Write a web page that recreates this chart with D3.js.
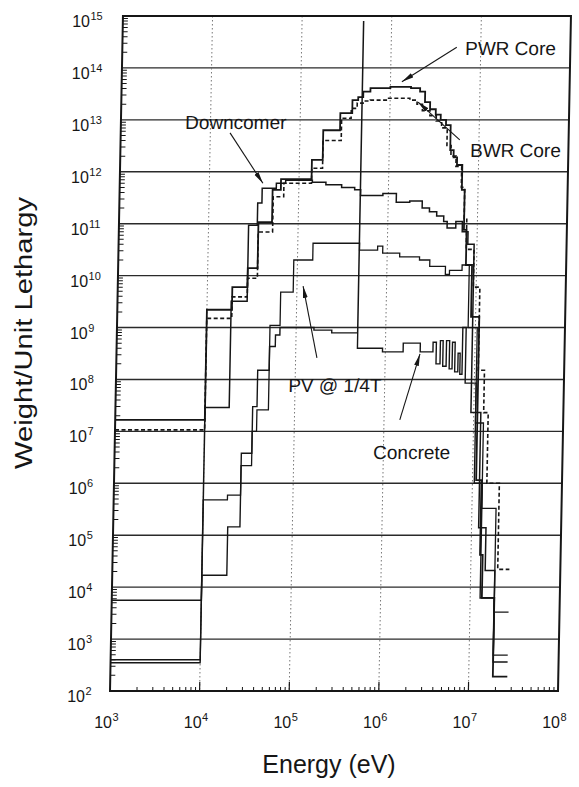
<!DOCTYPE html>
<html>
<head>
<meta charset="utf-8">
<script src="https://cdn.jsdelivr.net/npm/d3@7/dist/d3.min.js"></script>
<style>
  body { margin: 0; background: #fff; }
  svg { display: block; font-family: "Liberation Sans", Arial, Helvetica, sans-serif; }
</style>
</head>
<body>
<svg id="chart" width="579" height="787"></svg>
<script>
// decade ticks
const xTicks = [1e3, 1e4, 1e5, 1e6, 1e7, 1e8];
const yTicks = d3.range(2, 16).map(p => Math.pow(10, p));

// step histograms: bin edges (eV) and weight per bin
const pwrEdges = [1e3, 1e4, 1.9e4, 2.8e4, 3.6e4, 5.1e4, 6.3e4, 1.38e5, 1.82e5, 2.8e5, 3.8e5, 4.4e5, 5.0e5, 6.0e5, 1e6, 1.7e6, 2.15e6, 2.45e6, 2.8e6, 3.25e6, 3.7e6, 4.25e6, 4.8e6, 5.25e6, 5.75e6, 6.6e6, 7.1e6, 7.6e6, 8.9e6, 1.1e7, 1.26e7, 1.35e7, 1.86e7, 2.7e7];
const pwrValues = [1.66e7, 2.2e9, 6.0e9, 1.4e10, 1.07e11, 4.5e11, 7.2e11, 1.7e12, 6.3e12, 1.35e13, 2.4e13, 2.75e13, 3.5e13, 4.1e13, 4.3e13, 4.1e13, 3.5e13, 2.2e13, 1.6e13, 1.26e13, 1.0e13, 7.9e12, 2.6e12, 1.9e12, 1.35e12, 4.5e11, 7.6e10, 1.6e10, 1.6e9, 1.15e6, 4.2e4, 6.2e3, 1.9e2];

const bwrEdges = [1e3, 1e4, 1.9e4, 2.8e4, 3.6e4, 5.2e4, 6.8e4, 1.38e5, 1.82e5, 2.9e5, 3.7e5, 4.3e5, 5.0e5, 6.0e5, 9.3e5, 1.66e6, 2.0e6, 2.3e6, 2.8e6, 3.3e6, 3.8e6, 4.4e6, 4.9e6, 5.6e6, 6.5e6, 7.1e6, 7.6e6, 9.3e6, 1.1e7, 1.29e7, 1.45e7, 2.0e7, 2.7e7];
const bwrValues = [1.07e7, 1.5e9, 3.9e9, 8.9e9, 6.9e10, 3.3e11, 6e11, 1.17e12, 4e12, 1.07e13, 1.66e13, 2.1e13, 2.3e13, 2.4e13, 2.6e13, 2.4e13, 2e13, 1.5e13, 1.2e13, 9.5e12, 7e12, 3.2e12, 2e12, 1.26e12, 5e11, 1.26e11, 3.2e10, 6e9, 1.5e8, 2.3e7, 1e6, 2.2e4];

const downEdges = [1e3, 1e4, 1.86e4, 2.8e4, 3.5e4, 3.9e4, 5.6e4, 7.1e4, 1.41e5, 2.0e5, 3.0e5, 4.2e5, 4.9e5, 8.7e5, 1.23e6, 1.74e6, 2.4e6, 2.9e6, 3.5e6, 4.2e6, 4.6e6, 5.75e6, 6.8e6, 7.9e6, 9.3e6, 1.2e7, 1.45e7, 1.86e7, 2.7e7];
const downValues = [5.6e3, 2.9e7, 3.2e9, 9.3e10, 2.5e11, 4.8e11, 6e11, 6.9e11, 6.3e11, 5.6e11, 5e11, 4.5e11, 3.5e11, 3.8e11, 2.6e11, 2.75e11, 2e11, 1.7e11, 1.4e11, 1.1e11, 8.3e10, 1.1e11, 7e10, 4e10, 2.3e7, 1.4e5, 2.1e4, 3.6e2];

const pvEdges = [1e3, 1e4, 1.86e4, 2.6e4, 3.4e4, 3.8e4, 5.1e4, 6.6e4, 9.1e4, 1.48e5, 4.9e5, 7.8e5, 8.9e5, 1.38e6, 2.3e6, 3.0e6, 4.5e6, 5.0e6, 6.9e6, 8.3e6, 1.05e7, 1.29e7, 1.86e7, 2.7e7];
const pvValues = [4e2, 4.8e5, 5.9e5, 2.2e6, 1e7, 2.6e7, 1.1e9, 4.8e9, 2e10, 4.2e10, 3.1e10, 3.7e10, 2.7e10, 2.3e10, 2e10, 1.5e10, 1.05e10, 1.26e10, 1.6e10, 1e9, 1.45e7, 3.3e5, 3.3e3];

const concEdges = [1e3, 1e4, 1.9e4, 2.6e4, 3.4e4, 3.8e4, 5.1e4, 5.9e4, 6.6e4, 1.58e5, 2.5e5, 4.86e5, 4.875e5, 9.3e5, 1.58e6, 2.45e6, 3.4e6, 3.7e6, 4.1e6, 4.4e6, 4.8e6, 5.2e6, 5.6e6, 6.0e6, 6.5e6, 6.85e6, 7.25e6, 7.9e6, 1.05e7, 1.29e7, 1.86e7, 2.7e7];
const concValues = [3.5e2, 1.7e4, 1.45e5, 3.8e6, 3e7, 1.5e8, 4.3e8, 7.2e8, 1e9, 8.9e8, 7.9e8, 7.8e14, 4e8, 3.4e8, 5e8, 3.4e8, 5.2e8, 2e8, 5.6e8, 1.8e8, 5.6e8, 1.6e8, 5.2e8, 1.4e8, 3.2e8, 1.26e8, 1e9, 8.5e7, 1e6, 6.2e3, 4.9e2];

// annotations: text position and arrow (from -> to), in data units
const labelNames = ['PWR Core', 'BWR Core', 'Downcomer', 'PV @ 1/4T', 'Concrete'];
const labelPos = [[6.7e6, 1.8e14], [8.0e6, 1.93e12], [5.2e3, 6.6e12], [8.4e4, 5.8e7], [7.7e5, 2.95e6]];
const arrowFrom = [[5.4e6, 2.5e14], [6.1e6, 4.1e12], [1.66e4, 5.6e12], [1.73e5, 2.6e8], [1.5e6, 1.66e7]];
const arrowTo = [[1.34e6, 5.4e13], [2.05e6, 2.2e13], [3.96e4, 6.0e11], [1.17e5, 6.3e9], [2.44e6, 3.1e8]];

const series = [
    { edges: pwrEdges, values: pwrValues, width: 1.8, dash: null },
    { edges: bwrEdges, values: bwrValues, width: 1.6, dash: '4,2.5' },
    { edges: downEdges, values: downValues, width: 1.5, dash: null },
    { edges: pvEdges, values: pvValues, width: 1.3, dash: null },
    { edges: concEdges, values: concValues, width: 1.4, dash: null },
];

const ink = '#161616';
const svg = d3.select('#chart');

const x = d3.scaleLog().domain([1e3, 1e8]).range([110, 558]);
const y = d3.scaleLog().domain([1e2, 1e15]).range([691, 16]);

// the scanned figure leans a little to the right
const plot = svg.append('g')
    .attr('transform', `translate(0,${y(1e2)}) skewX(-1.1) translate(0,${-y(1e2)})`);

svg.append('defs').append('marker')
    .attr('id', 'head')
    .attr('markerUnits', 'userSpaceOnUse')
    .attr('viewBox', '0 0 12 6')
    .attr('refX', 12).attr('refY', 3)
    .attr('markerWidth', 12).attr('markerHeight', 6)
    .attr('orient', 'auto')
    .append('path')
    .attr('d', 'M0,0.6 L12,3 L0,5.4 Z')
    .attr('fill', ink);

// horizontal grid at each decade
plot.append('g')
    .selectAll('line')
    .data(yTicks.slice(1, -1))
    .join('line')
    .attr('x1', x(1e3)).attr('x2', x(1e8))
    .attr('y1', d => y(d)).attr('y2', d => y(d))
    .attr('stroke', '#2a2a2a')
    .attr('stroke-width', 1.4);

// dotted vertical grid
plot.append('g')
    .selectAll('line')
    .data(xTicks.slice(1, -1))
    .join('line')
    .attr('x1', d => x(d)).attr('x2', d => x(d))
    .attr('y1', y(1e15)).attr('y2', y(1e2))
    .attr('stroke', '#777')
    .attr('stroke-width', 1)
    .attr('stroke-dasharray', '1.5,2.5');

// minor ticks, left side and bottom
const minors = [];
d3.range(2, 15).forEach(p => d3.range(2, 10).forEach(k => minors.push(k * Math.pow(10, p))));
plot.append('g')
    .selectAll('line')
    .data(minors)
    .join('line')
    .attr('x1', x(1e3)).attr('x2', x(1e3) + 5)
    .attr('y1', d => y(d)).attr('y2', d => y(d))
    .attr('stroke', ink).attr('stroke-width', 1);

const xMinors = [];
d3.range(3, 8).forEach(p => d3.range(2, 10).forEach(k => xMinors.push(k * Math.pow(10, p))));
plot.append('g')
    .selectAll('line')
    .data(xMinors)
    .join('line')
    .attr('x1', d => x(d)).attr('x2', d => x(d))
    .attr('y1', y(1e2)).attr('y2', y(1e2) - 4)
    .attr('stroke', ink).attr('stroke-width', 1);

plot.append('g')
    .selectAll('line')
    .data(xTicks.slice(1, -1))
    .join('line')
    .attr('x1', d => x(d)).attr('x2', d => x(d))
    .attr('y1', y(1e2)).attr('y2', y(1e2) - 9)
    .attr('stroke', ink).attr('stroke-width', 1.2);

// frame
plot.append('rect')
    .attr('x', x(1e3)).attr('y', y(1e15))
    .attr('width', x(1e8) - x(1e3))
    .attr('height', y(1e2) - y(1e15))
    .attr('fill', 'none')
    .attr('stroke', ink)
    .attr('stroke-width', 2);

// curves
const line = d3.line()
    .x(d => x(d[0]))
    .y(d => y(d[1]))
    .curve(d3.curveStepAfter);

series.forEach(s => {
    const pts = s.edges.map((e, i) => [e, s.values[Math.min(i, s.values.length - 1)]]);
    plot.append('path')
        .attr('d', line(pts))
        .attr('fill', 'none')
        .attr('stroke', ink)
        .attr('stroke-width', s.width)
        .attr('stroke-dasharray', s.dash);
});

// annotations
plot.append('g')
    .selectAll('line')
    .data(arrowFrom)
    .join('line')
    .attr('x1', d => x(d[0])).attr('y1', d => y(d[1]))
    .attr('x2', (d, i) => x(arrowTo[i][0])).attr('y2', (d, i) => y(arrowTo[i][1]))
    .attr('stroke', ink)
    .attr('stroke-width', 1.1)
    .attr('marker-end', 'url(#head)');

plot.append('g')
    .selectAll('text')
    .data(labelNames)
    .join('text')
    .attr('x', (d, i) => x(labelPos[i][0]))
    .attr('y', (d, i) => y(labelPos[i][1]))
    .attr('font-size', 19)
    .attr('fill', ink)
    .text(d => d);

// tick labels
const yLab = svg.append('g');
yTicks.forEach(v => {
    const ty = y(v);
    const right = 85 + 0.0074 * (y(1e2) - ty);
    yLab.append('text')
        .attr('x', right).attr('y', ty + 11)
        .attr('text-anchor', 'end')
        .attr('font-size', 16)
        .attr('fill', ink)
        .text('10');
    yLab.append('text')
        .attr('x', right + 0.5).attr('y', ty + 4)
        .attr('font-size', 11)
        .attr('fill', ink)
        .text(Math.round(Math.log10(v)));
});

const xLab = svg.append('g');
xTicks.forEach(v => {
    const tx = x(v) + 2;
    xLab.append('text')
        .attr('x', tx).attr('y', 728)
        .attr('text-anchor', 'end')
        .attr('font-size', 16)
        .attr('fill', ink)
        .text('10');
    xLab.append('text')
        .attr('x', tx + 0.5).attr('y', 721)
        .attr('font-size', 11)
        .attr('fill', ink)
        .text(Math.round(Math.log10(v)));
});

// axis titles
svg.append('text')
    .attr('x', 329).attr('y', 773)
    .attr('text-anchor', 'middle')
    .attr('font-size', 25)
    .attr('fill', ink)
    .text('Energy (eV)');

svg.append('text')
    .attr('transform', 'translate(32,333) rotate(-90)')
    .attr('text-anchor', 'middle')
    .attr('font-size', 23)
    .attr('textLength', 272)
    .attr('lengthAdjust', 'spacingAndGlyphs')
    .attr('fill', ink)
    .text('Weight/Unit Lethargy');
</script>
</body>
</html>
